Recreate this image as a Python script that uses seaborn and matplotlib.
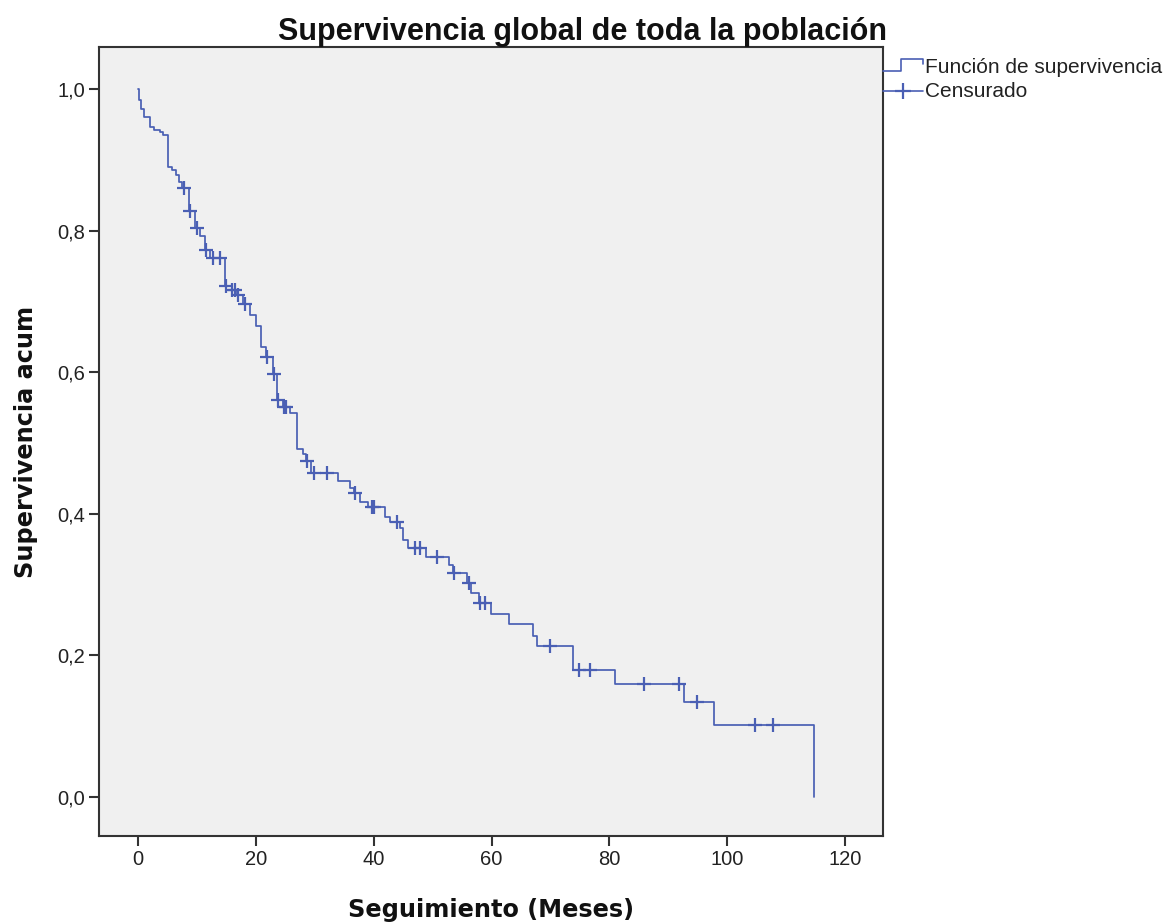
import numpy as np
import pandas as pd
import matplotlib
matplotlib.use("Agg")
import matplotlib.pyplot as plt
from matplotlib.lines import Line2D
from matplotlib.legend_handler import HandlerBase
from matplotlib.ticker import FuncFormatter
import seaborn as sns

# Kaplan-Meier estimate: event times (months) and survival after each drop
event_times = [0.0, 0.1, 0.5, 1.0, 2.0, 2.8, 3.7, 4.3, 5.1, 5.8, 6.4, 6.9, 7.4,
               8.6, 9.7, 10.5, 11.4, 12.2, 14.8, 15.9, 16.7, 17.9, 19.0, 20.1,
               20.9, 21.8, 22.9, 23.6, 24.6, 25.8, 27.0, 28.0, 28.5, 29.3, 34.0,
               36.0, 36.7, 37.7, 39.1, 41.9, 42.8, 44.5, 45.0, 45.9, 48.9, 52.8,
               53.5, 55.8, 56.6, 57.8, 59.9, 63.0, 67.0, 67.8, 73.8, 81.0, 92.7,
               97.8, 114.8]
survival = [1.000, 0.984, 0.972, 0.961, 0.947, 0.942, 0.939, 0.935, 0.890, 0.885,
            0.879, 0.869, 0.860, 0.828, 0.803, 0.792, 0.773, 0.761, 0.722, 0.716,
            0.709, 0.696, 0.681, 0.665, 0.635, 0.621, 0.598, 0.561, 0.551, 0.543,
            0.492, 0.485, 0.474, 0.457, 0.447, 0.436, 0.429, 0.417, 0.409, 0.396,
            0.389, 0.380, 0.363, 0.351, 0.339, 0.328, 0.316, 0.302, 0.288, 0.274,
            0.259, 0.244, 0.227, 0.213, 0.180, 0.160, 0.134, 0.101, 0.000]

# Censored follow-up times (months)
censored_times = [7.8, 8.9, 10.0, 11.6, 12.8, 13.9, 15.0, 16.0, 16.5, 17.0, 18.2,
                  21.9, 23.0, 23.8, 24.7, 25.2, 28.6, 29.8, 32.0, 36.8, 39.7,
                  40.0, 43.9, 47.0, 47.9, 50.8, 53.6, 56.1, 58.0, 58.9, 69.9,
                  74.9, 76.8, 85.9, 91.9, 94.8, 104.8, 107.8]

x_ticks = [0, 20, 40, 60, 80, 100, 120]
y_ticks = [0.0, 0.2, 0.4, 0.6, 0.8, 1.0]

title = "Supervivencia global de toda la población"
x_label = "Seguimiento (Meses)"
y_label = "Supervivencia acum"
legend_labels = ["Función de supervivencia", "Censurado"]

curve_color = "#4a5fb4"
frame_color = "#333333"

sns.set_theme(style="white")
plt.rcParams["font.family"] = ["Liberation Sans", "DejaVu Sans"]

km = pd.DataFrame({"tiempo": event_times, "supervivencia": survival})
# level of the curve at each censored time (step function, right-continuous)
idx = np.searchsorted(np.array(event_times), np.array(censored_times), side="right") - 1
cens = pd.DataFrame({"tiempo": censored_times,
                     "supervivencia": np.array(survival)[idx]})

fig = plt.figure(figsize=(11.66, 9.24), dpi=100)
ax = fig.add_axes([99 / 1166, 1 - 836 / 924, (883 - 99) / 1166, (836 - 47) / 924])
ax.set_facecolor("#f0f0f0")

sns.lineplot(data=km, x="tiempo", y="supervivencia", ax=ax, drawstyle="steps-post",
             estimator=None, sort=False, color=curve_color, linewidth=1.25)
sns.scatterplot(data=cens, x="tiempo", y="supervivencia", ax=ax, marker="+",
                s=110, color=curve_color, linewidth=1.6, zorder=3)

ax.set_xlim(-6.62, 126.45)
ax.set_ylim(-0.0551, 1.0593)
ax.set_xticks(x_ticks)
ax.set_yticks(y_ticks)
ax.yaxis.set_major_formatter(FuncFormatter(lambda v, p: f"{v:.1f}".replace(".", ",")))
ax.tick_params(axis="both", direction="out", length=7, width=1.5, color=frame_color,
               labelsize=14.5, labelcolor="#222222", pad=3,
               bottom=True, left=True)
for sp in ax.spines.values():
    sp.set_color(frame_color)
    sp.set_linewidth(1.5)

label_font = dict(family="DejaVu Sans", fontsize=17.3, fontweight="bold", color="#111111")
ax.set_xlabel(x_label, labelpad=21, **label_font)
ax.set_ylabel(y_label, labelpad=14, **label_font)
fig.text(583 / 1166, 1 - 32 / 924, title, fontsize=22, fontweight="bold",
         color="#111111", ha="center", va="center")


class StepHandler(HandlerBase):
    def create_artists(self, legend, orig_handle, xdescent, ydescent, width,
                       height, fontsize, trans):
        xs = np.array([0.0, 0.45, 0.45, 1.0, 1.0]) * width - xdescent
        ys = np.array([0.15, 0.15, 0.95, 0.95, 0.6]) * height - ydescent
        ln = Line2D(xs, ys, color=curve_color, linewidth=1.2)
        ln.set_transform(trans)
        return [ln]


class CensorHandler(HandlerBase):
    def create_artists(self, legend, orig_handle, xdescent, ydescent, width,
                       height, fontsize, trans):
        y = 0.45 * height - ydescent
        ln = Line2D([-xdescent, width - xdescent], [y, y], color=curve_color,
                    linewidth=1.2)
        mk = Line2D([0.5 * width - xdescent], [y], marker="+", markersize=11,
                    markeredgewidth=1.6, color=curve_color, linestyle="none")
        ln.set_transform(trans)
        mk.set_transform(trans)
        return [ln, mk]


h_step = Line2D([], [])
h_cens = Line2D([], [])
ax.legend([h_step, h_cens], legend_labels, loc="upper left",
          bbox_to_anchor=(1.0, 0.986), frameon=False, fontsize=15,
          borderaxespad=0, borderpad=0, handlelength=1.9, handletextpad=0.12,
          labelspacing=0.25, labelcolor="#222222",
          handler_map={h_step: StepHandler(), h_cens: CensorHandler()})

fig.savefig("out.png", dpi=100)
